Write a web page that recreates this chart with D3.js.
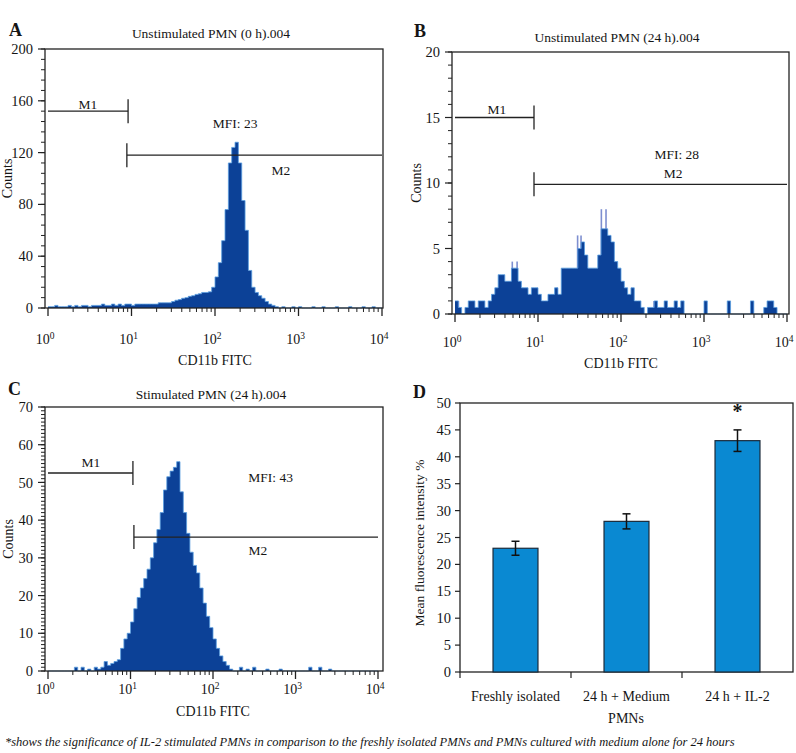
<!DOCTYPE html>
<html>
<head>
<meta charset="utf-8">
<script src="https://cdn.jsdelivr.net/npm/d3@7"></script>
<style>
  body { margin: 0; background: #fff; }
  svg text { font-family: "Liberation Serif", "Times New Roman", serif; fill: #151515; }
</style>
</head>
<body>
<div id="chart"></div>
<script>
// histogram counts: 100 log-spaced channels from 10^0 to 10^4
const histA = [
  1, 1, 2, 1, 1, 1, 2, 1, 2, 1,
  2, 2, 1, 2, 2, 2, 3, 2, 2, 3,
  2, 3, 2, 3, 3, 2, 3, 3, 3, 3,
  3, 3, 3, 4, 4, 4, 4, 5, 6, 6.5,
  7.5, 8, 9, 9.5, 10.5, 11, 12, 12, 12.5, 16,
  24, 35, 52, 76, 112, 124, 128, 112, 83, 60,
  29, 16, 12, 9.5, 7.5, 5, 3, 2, 1, 0,
  1, 0, 0, 1, 0, 1, 0, 0, 0, 1,
  0, 0, 1, 0, 0, 0, 1, 0, 0, 0,
  1, 0, 0, 0, 1, 0, 0, 1, 0, 0
];
const histB = [
  1, 0.5, 0, 0.5, 1, 1, 0.5, 1, 1, 0.5,
  1, 1.5, 2, 3, 3, 2.5, 2.5, 3.5, 3.5, 2.5,
  2, 2, 1.5, 2, 2, 1.5, 1, 1, 1.5, 1.5,
  2, 1.5, 3.5, 3.5, 3.5, 3.5, 3.5, 5, 5.5, 4.5,
  3.5, 3.5, 3.5, 4.5, 6.5, 6.5, 6, 5.5, 4, 3.5,
  2.5, 2, 1.5, 2, 1, 1, 0.5, 0, 0.5, 0.5,
  1, 0.5, 0.5, 1, 0.5, 0.5, 1, 0.5, 1, 0,
  0, 0, 0, 0, 0, 1, 0, 0, 0, 0,
  0, 0, 1, 0, 0, 0, 0, 0, 0, 1,
  0, 0, 0, 0.5, 1, 1, 0.5, 0, 0, 0
];
// single-channel spikes seen above the B histogram (channel value, count)
const spikesB = [
  [1.1, 1], [2.6, 1], [2.9, 1], [4.9, 4], [5.6, 4], [17, 2], [30, 6], [33, 6],
  [58, 8], [66, 8], [250, 1], [340, 1], [2000, 1], [3900, 1], [6500, 1]
];
const histC = [
  0, 0, 0, 0, 0, 0, 0, 0, 1, 0,
  1, 0, 0.5, 0, 1, 0.5, 1, 2.5, 1.5, 2,
  2.5, 3, 6, 8.5, 10, 13, 16.5, 19.5, 22, 24.5,
  27, 30, 34, 37.5, 42, 48, 51.5, 53, 54, 55.5,
  47.5, 42, 36.5, 31.5, 28, 26, 22, 18, 14.5, 11.5,
  8.5, 6, 4, 2.5, 1.5, 0.5, 0, 0, 1, 0,
  0.5, 0, 1, 0, 0, 0, 0.5, 0, 0, 0,
  0.5, 0, 0, 0, 0, 0, 0, 0, 0, 1,
  0, 0, 1, 0, 0, 0.5, 0, 0, 0, 0,
  0, 0, 0, 0, 0, 0, 0, 0, 0, 0
];

// marker gates: channel range and count level
const gatesA = [{ name: "M1", lo: 1, hi: 9.1, level: 152 }, { name: "M2", lo: 8.8, hi: 1e4, level: 118 }];
const gatesB = [{ name: "M1", lo: 1, hi: 8.95, level: 15 }, { name: "M2", lo: 8.95, hi: 1e4, level: 9.9 }];
const gatesC = [{ name: "M1", lo: 1, hi: 10.7, level: 52.5 }, { name: "M2", lo: 11, hi: 1e4, level: 35.5 }];

// text notes placed in data units (channel, count)
const notesA = [{ t: "M1", v: 3, c: 154 }, { t: "MFI: 23", v: 174, c: 139 }, { t: "M2", v: 617, c: 103 }];
const notesB = [{ t: "M1", v: 3.2, c: 15.3 }, { t: "MFI: 28", v: 470, c: 11.8 }, { t: "M2", v: 425, c: 10.4 }];
const notesC = [{ t: "M1", v: 3.3, c: 54 }, { t: "MFI: 43", v: 500, c: 50.1 }, { t: "M2", v: 351, c: 30.8 }];

const yTicksA = [0, 40, 80, 120, 160, 200];
const yTicksB = [0, 5, 10, 15, 20];
const yTicksC = [0, 10, 20, 30, 40, 50, 60, 70];
const decades = [0, 1, 2, 3, 4];

// bar chart D
const barCats = ["Freshly isolated", "24 h + Medium", "24 h + IL-2"];
const barValues = [23, 28, 43];
const barErrors = [1.3, 1.4, 2];
const barStars = ["", "", "*"];
const yTicksD = [0, 5, 10, 15, 20, 25, 30, 35, 40, 45, 50];

const caption = "*shows the significance of IL-2 stimulated PMNs in comparison to the freshly isolated PMNs and PMNs cultured with medium alone for 24 hours";

const svg = d3.select("#chart").append("svg")
    .attr("width", 796)
    .attr("height", 753);

function drawHist(p) {
  const g = svg.append("g");
  const x = d3.scaleLog().domain([1, 1e4]).range(p.xr);
  const y = d3.scaleLinear().domain([0, p.yMax]).range([p.fb, p.ft]);
  const n = p.counts.length;

  const pts = p.counts.map((c, i) => ({ v: Math.pow(10, 4 * i / n), c: c }));
  pts.push({ v: 1e4, c: 0 });

  // thin light spikes (drawn first, under the fill)
  if (p.spikes) {
    g.selectAll(".spike").data(p.spikes).join("line")
      .attr("x1", d => x(d[0])).attr("x2", d => x(d[0]))
      .attr("y1", y(0)).attr("y2", d => y(d[1]))
      .attr("stroke", "#7e8fd0").attr("stroke-width", 1.6);
  }

  g.append("path").datum(pts)
    .attr("d", d3.area().x(d => x(d.v)).y0(y(0)).y1(d => y(d.c)).curve(d3.curveStepAfter))
    .attr("fill", "#0c4197");
  g.append("path").datum(pts)
    .attr("d", d3.line().x(d => x(d.v)).y(d => y(d.c)).curve(d3.curveStepAfter))
    .attr("fill", "none").attr("stroke", "#5a9ee0").attr("stroke-width", 0.8);

  // frame
  g.append("rect")
    .attr("x", p.fl).attr("y", p.ft)
    .attr("width", p.fr - p.fl).attr("height", p.fb - p.ft)
    .attr("fill", "none").attr("stroke", "#222").attr("stroke-width", 1.3);

  // y ticks
  const minor = d3.range(0, p.yMax + 0.001, p.yMinor);
  g.selectAll(".ymin").data(minor).join("line")
    .attr("x1", p.fl - 4).attr("x2", p.fl)
    .attr("y1", d => y(d)).attr("y2", d => y(d))
    .attr("stroke", "#222").attr("stroke-width", 1);
  g.selectAll(".ymaj").data(p.yTicks).join("line")
    .attr("x1", p.fl - 7).attr("x2", p.fl)
    .attr("y1", d => y(d)).attr("y2", d => y(d))
    .attr("stroke", "#222").attr("stroke-width", 1.2);
  g.selectAll(".ylab").data(p.yTicks).join("text")
    .attr("x", p.fl - 12).attr("y", d => y(d)).attr("dy", "0.35em")
    .attr("text-anchor", "end").attr("font-size", 14.5)
    .text(d => d);

  // x ticks (log)
  const minorX = [];
  decades.slice(0, 4).forEach(k => d3.range(2, 10).forEach(m => minorX.push(m * Math.pow(10, k))));
  g.selectAll(".xmin").data(minorX).join("line")
    .attr("x1", d => x(d)).attr("x2", d => x(d))
    .attr("y1", p.fb).attr("y2", p.fb + 4)
    .attr("stroke", "#222").attr("stroke-width", 1);
  g.selectAll(".xmaj").data(decades).join("line")
    .attr("x1", d => x(Math.pow(10, d))).attr("x2", d => x(Math.pow(10, d)))
    .attr("y1", p.fb).attr("y2", p.fb + 8)
    .attr("stroke", "#222").attr("stroke-width", 1.3);
  const xl = g.selectAll(".xlab").data(decades).join("text")
    .attr("x", d => x(Math.pow(10, d)) - 3)
    .attr("y", p.tickY)
    .attr("text-anchor", "middle").attr("font-size", 14);
  xl.append("tspan").text("10");
  xl.append("tspan").attr("dy", -5).attr("font-size", 9.5).text(d => d);

  g.append("text")
    .attr("x", (p.xr[0] + p.xr[1]) / 2).attr("y", p.axisY)
    .attr("text-anchor", "middle").attr("font-size", 14)
    .text("CD11b FITC");

  g.append("text")
    .attr("transform", `translate(${p.countsX},${(p.ft + p.fb) / 2}) rotate(-90)`)
    .attr("text-anchor", "middle").attr("font-size", 14)
    .text("Counts");

  // title and panel letter
  g.append("text")
    .attr("x", p.titleX).attr("y", p.titleY)
    .attr("text-anchor", "middle").attr("font-size", 13.5)
    .text(p.title);
  g.append("text")
    .attr("x", p.letter[1]).attr("y", p.letter[2])
    .attr("font-size", 18).attr("font-weight", "bold")
    .text(p.letter[0]);

  // marker gates
  p.gates.forEach(m => {
    const x0 = Math.max(p.fl, x(m.lo)), x1 = Math.min(p.fr, x(m.hi));
    const yy = y(m.level);
    g.append("line").attr("x1", x0).attr("x2", x1).attr("y1", yy).attr("y2", yy)
      .attr("stroke", "#222").attr("stroke-width", 1.3);
    const xe = m.name === "M1" ? x1 : x0;
    g.append("line").attr("x1", xe).attr("x2", xe).attr("y1", yy - 12).attr("y2", yy + 12)
      .attr("stroke", "#222").attr("stroke-width", 1.3);
  });
  g.selectAll(".note").data(p.notes).join("text")
    .attr("x", d => x(d.v)).attr("y", d => y(d.c))
    .attr("text-anchor", "middle").attr("font-size", 13.5)
    .text(d => d.t);
}

drawHist({
  counts: histA, xr: [48, 382], fl: 45, fr: 383, ft: 49, fb: 308,
  yMax: 200, yTicks: yTicksA, yMinor: 8, tickY: 344, axisY: 365, countsX: 12,
  title: "Unstimulated PMN (0 h).004", titleX: 211, titleY: 38,
  letter: ["A", 9, 36], gates: gatesA, notes: notesA
});
drawHist({
  counts: histB, spikes: spikesB, xr: [455, 787], fl: 452, fr: 789, ft: 52, fb: 314,
  yMax: 20, yTicks: yTicksB, yMinor: 1, tickY: 347, axisY: 368, countsX: 421,
  title: "Unstimulated PMN (24 h).004", titleX: 617, titleY: 42,
  letter: ["B", 414, 37], gates: gatesB, notes: notesB
});
drawHist({
  counts: histC, xr: [48, 378], fl: 45, fr: 383, ft: 407, fb: 671,
  yMax: 70, yTicks: yTicksC, yMinor: 1, tickY: 694, axisY: 716, countsX: 13,
  title: "Stimulated PMN (24 h).004", titleX: 211, titleY: 399,
  letter: ["C", 8, 395], gates: gatesC, notes: notesC
});

// panel D: bar chart
const gD = svg.append("g");
const xD = d3.scaleBand().domain(barCats).range([460, 793]);
const yD = d3.scaleLinear().domain([0, 50]).range([672, 403]);
const bw = xD.bandwidth() * 0.405;

gD.append("rect")
  .attr("x", 460).attr("y", 403).attr("width", 333).attr("height", 269)
  .attr("fill", "none").attr("stroke", "#222").attr("stroke-width", 1.3);

gD.selectAll(".bar").data(barCats).join("rect")
  .attr("x", d => xD(d) + (xD.bandwidth() - bw) / 2)
  .attr("y", (d, i) => yD(barValues[i]))
  .attr("width", bw)
  .attr("height", (d, i) => yD(0) - yD(barValues[i]))
  .attr("fill", "#0a89d2").attr("stroke", "#1a2a3a").attr("stroke-width", 1.2);

barCats.forEach((c, i) => {
  const cx = xD(c) + xD.bandwidth() / 2;
  const lo = yD(barValues[i] - barErrors[i]), hi = yD(barValues[i] + barErrors[i]);
  gD.append("line").attr("x1", cx).attr("x2", cx).attr("y1", lo).attr("y2", hi)
    .attr("stroke", "#111").attr("stroke-width", 1.5);
  [lo, hi].forEach(yy => gD.append("line")
    .attr("x1", cx - 4).attr("x2", cx + 4).attr("y1", yy).attr("y2", yy)
    .attr("stroke", "#111").attr("stroke-width", 1.5));
  if (barStars[i]) {
    gD.append("text").attr("x", cx).attr("y", hi - 12)
      .attr("text-anchor", "middle").attr("font-size", 20).attr("font-weight", "bold")
      .text(barStars[i]);
  }
});

gD.selectAll(".ytD").data(yTicksD).join("line")
  .attr("x1", 455).attr("x2", 460)
  .attr("y1", d => yD(d)).attr("y2", d => yD(d))
  .attr("stroke", "#222").attr("stroke-width", 1.2);
gD.selectAll(".ylD").data(yTicksD).join("text")
  .attr("x", 451).attr("y", d => yD(d)).attr("dy", "0.35em")
  .attr("text-anchor", "end").attr("font-size", 14.5)
  .text(d => d);

const xTickPos = barCats.map(c => xD(c));
gD.selectAll(".xtD").data(xTickPos).join("line")
  .attr("x1", d => d).attr("x2", d => d).attr("y1", 672).attr("y2", 678)
  .attr("stroke", "#222").attr("stroke-width", 1.2);
gD.selectAll(".xlD").data(barCats).join("text")
  .attr("x", d => xD(d) + xD.bandwidth() / 2).attr("y", 701)
  .attr("text-anchor", "middle").attr("font-size", 14)
  .text(d => d);
gD.append("text").attr("x", 626).attr("y", 723)
  .attr("text-anchor", "middle").attr("font-size", 14).text("PMNs");
gD.append("text")
  .attr("transform", "translate(424,543) rotate(-90)")
  .attr("text-anchor", "middle").attr("font-size", 13.5)
  .text("Mean fluorescence intensity %");
gD.append("text").attr("x", 413).attr("y", 398)
  .attr("font-size", 18).attr("font-weight", "bold").text("D");

svg.append("text")
  .attr("x", 5).attr("y", 746)
  .attr("font-size", 12.5).attr("font-style", "italic")
  .text(caption);
</script>
</body>
</html>
